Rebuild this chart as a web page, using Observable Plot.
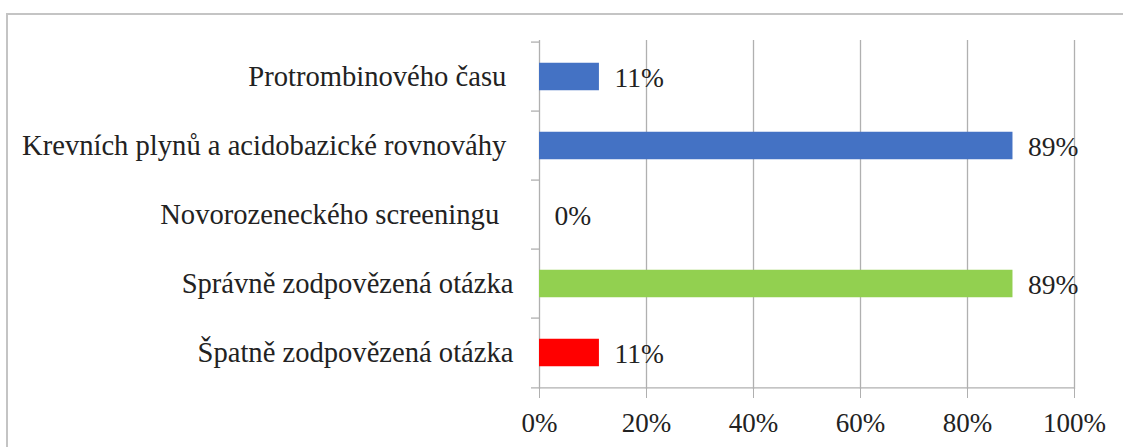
<!DOCTYPE html>
<html>
<head>
<meta charset="utf-8">
<script src="https://cdn.jsdelivr.net/npm/d3@7"></script>
<script src="https://cdn.jsdelivr.net/npm/@observablehq/plot@0.6"></script>
<style>
  html, body { margin: 0; padding: 0; background: #fff; overflow: hidden; }
  #wrap { position: relative; width: 1123px; height: 447px; }
  #frame { position: absolute; left: 6px; top: 13px; width: 1130px; height: 460px;
           border: 2px solid #c4c4c4; box-sizing: border-box; }
  #chart { position: absolute; left: 0; top: 0; }
</style>
</head>
<body>
<div id="wrap">
  <div id="frame"></div>
  <div id="chart"></div>
</div>
<script>
const categories = [
  "Protrombinového času ",
  "Krevních plynů a acidobazické rovnováhy ",
  "Novorozeneckého screeningu  ",
  "Správně zodpovězená otázka",
  "Špatně zodpovězená otázka"
];
const values = [11.2, 88.5, 0, 88.5, 11.2];
const groups = ["vyšetření", "vyšetření", "vyšetření", "správně", "špatně"];
const xTicks = [0, 20, 40, 60, 80, 100];

const data = categories.map((c, i) => ({category: c, value: values[i], group: groups[i]}));

const FONT = "Liberation Serif";
const INK = "#222";
const W = 1123, H = 447;
const mL = 539, mR = 49, mT = 40, mB = 58;
const bandPx = (H - mT - mB) / categories.length;
const barH = 28.3;
const inset = (bandPx - barH) / 2;
const pxPerUnit = (W - mL - mR) / 100;
const tickUnits = 8 / pxPerUnit;

const plot = Plot.plot({
  width: W,
  height: H,
  marginLeft: mL,
  marginRight: mR,
  marginTop: mT,
  marginBottom: mB,
  style: {color: INK, background: "transparent", fontFamily: FONT},
  x: {domain: [0, 100]},
  y: {domain: categories, padding: 0},
  color: {domain: ["vyšetření", "správně", "špatně"], range: ["#4472C4", "#92D050", "#FF0000"]},
  marks: [
    Plot.gridX(xTicks, {stroke: "#b0b0b0", strokeOpacity: 1, strokeWidth: 1.3}),
    Plot.ruleY(categories, {y: d => d, x1: -tickUnits, x2: 0, dy: -bandPx / 2, stroke: "#b0b0b0", strokeWidth: 1.3}),
    Plot.ruleY([categories[categories.length - 1]], {y: d => d, x1: -tickUnits, x2: 100, dy: bandPx / 2, stroke: "#b0b0b0", strokeWidth: 1.3}),
    Plot.barX(data, {x: "value", y: "category", fill: "group", insetTop: inset, insetBottom: inset}),
    Plot.text(data, {x: "value", y: "category", text: d => Math.round(d.value) + "%", dx: 15, dy: 1, textAnchor: "start", fontSize: 27.5, fontFamily: FONT, fill: INK}),
    Plot.axisX({ticks: xTicks, tickSize: 9, tickPadding: 14, tickFormat: d => d + "%", fontSize: 27, fontFamily: FONT, stroke: "#b0b0b0", fill: INK, label: null}),
    Plot.axisY({tickSize: 0, tickPadding: 26, fontSize: 28.6, fontFamily: FONT, fill: INK, label: null})
  ]
});
plot.querySelectorAll("text").forEach(t => {
  t.setAttribute("font-family", FONT);
  t.style.whiteSpace = "pre";
});
document.getElementById("chart").appendChild(plot);
</script>
</body>
</html>
